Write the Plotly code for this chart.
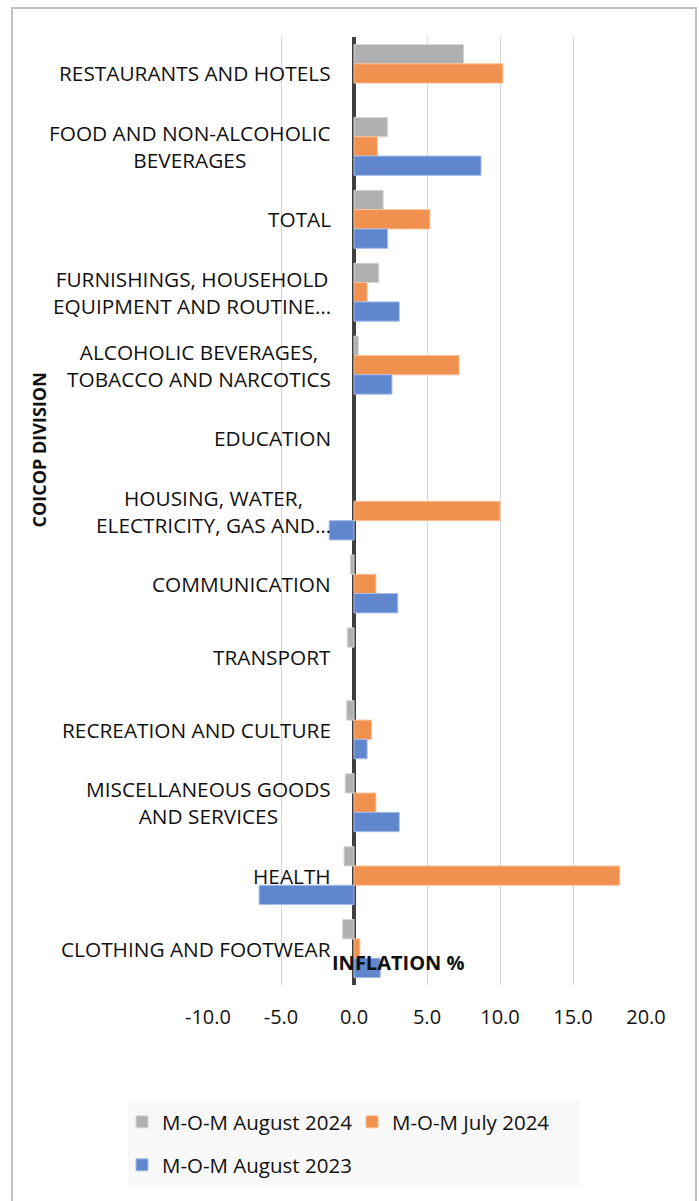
import plotly.graph_objects as go

categories = [
    "RESTAURANTS AND HOTELS",
    "FOOD AND NON-ALCOHOLIC<br>BEVERAGES",
    "TOTAL",
    "FURNISHINGS, HOUSEHOLD<br>EQUIPMENT AND ROUTINE…",
    "ALCOHOLIC BEVERAGES,<br>TOBACCO AND NARCOTICS",
    "EDUCATION",
    "HOUSING, WATER,<br>ELECTRICITY, GAS AND…",
    "COMMUNICATION",
    "TRANSPORT",
    "RECREATION AND CULTURE",
    "MISCELLANEOUS GOODS<br>AND SERVICES",
    "HEALTH",
    "CLOTHING AND FOOTWEAR",
]
aug2024 = [7.5, 2.3, 2.0, 1.7, 0.3, 0.0, 0.0, -0.25, -0.46, -0.5, -0.6, -0.68, -0.78]
jul2024 = [10.2, 1.6, 5.2, 0.9, 7.2, 0.0, 10.0, 1.5, 0.0, 1.2, 1.5, 18.2, 0.4]
aug2023 = [0.0, 8.7, 2.3, 3.1, 2.6, 0.0, -1.7, 3.0, 0.0, 0.9, 3.1, -6.5, 1.8]
series_names = ["M-O-M August 2024", "M-O-M July 2024", "M-O-M August 2023"]
tick_vals = [-10, -5, 0, 5, 10, 15, 20]
tick_text = ["-10.0", "-5.0", "0.0", "5.0", "10.0", "15.0", "20.0"]

FONT = "Open Sans"
W, H = 699, 1201
L, R, T, B = 208, 699 - 646, 37, 1201 - 985
pw, ph = W - L - R, H - T - B

def px(x):
    return (x - L) / pw

def py(y):
    return (H - B - y) / ph

fills = ["rgb(176,176,176)", "rgb(240,145,80)", "rgb(96,135,205)"]
edges = ["rgb(214,214,214)", "rgb(248,192,152)", "rgb(165,188,232)"]
legends = ["legend", "legend", "legend2"]

fig = go.Figure()
for name, vals, fc, ec, lg in zip(series_names, [aug2024, jul2024, aug2023], fills, edges, legends):
    fig.add_trace(go.Bar(
        y=categories, x=[v if v != 0 else None for v in vals], name=name, orientation="h",
        marker=dict(color=fc, line=dict(color=ec, width=1)), legend=lg,
    ))

annotations = []
for c in categories:
    annotations.append(dict(
        x=0, y=c, xref="x", yref="y", text=c, showarrow=False,
        xanchor="right", yanchor="middle", align="center", xshift=-21,
        font=dict(family=FONT, size=20.8, color="#111111"),
    ))
annotations.append(dict(
    x=px(398), y=py(962), xref="paper", yref="paper", text="<b>INFLATION %</b>",
    showarrow=False, xanchor="center", yanchor="middle",
    font=dict(family=FONT, size=20, color="#111111"),
))
annotations.append(dict(
    x=px(38.5), y=py(450), xref="paper", yref="paper", text="<b>COICOP DIVISION</b>",
    showarrow=False, xanchor="center", yanchor="middle", textangle=-90,
    font=dict(family=FONT, size=18, color="#111111"),
))

shapes = [
    dict(type="rect", xref="paper", yref="paper", x0=px(12), x1=px(696), y0=py(1215), y1=py(8),
         line=dict(color="#bfbfbf", width=2), fillcolor="rgba(0,0,0,0)", layer="below"),
    dict(type="rect", xref="paper", yref="paper", x0=px(128), x1=px(580), y0=py(1187), y1=py(1100),
         line=dict(width=0), fillcolor="#f8f8f8", layer="below"),
]

legend_common = dict(
    orientation="h", xanchor="left", yanchor="top",
    bgcolor="rgba(0,0,0,0)", font=dict(family=FONT, size=20.5, color="#111111"),
    traceorder="normal",
)

fig.update_layout(
    width=W, height=H,
    margin=dict(l=L, r=R, t=T, b=B, autoexpand=False),
    paper_bgcolor="white", plot_bgcolor="white",
    barmode="group", bargap=0.205, bargroupgap=0,
    font=dict(family=FONT, size=20, color="#111111"),
    xaxis=dict(
        range=[-10, 20], tickvals=tick_vals, ticktext=tick_text,
        showgrid=True, gridcolor="#d4d4d4", gridwidth=1,
        zeroline=True, zerolinecolor="#404040", zerolinewidth=4,
        showline=False, ticks="outside", ticklen=14, tickcolor="rgba(0,0,0,0)",
        tickfont=dict(family=FONT, size=20, color="#111111"),
    ),
    yaxis=dict(
        type="category", autorange="reversed", showticklabels=False,
        showgrid=False, zeroline=False, showline=False,
    ),
    legend=dict(x=px(122), y=py(1102), entrywidth=185, entrywidthmode="pixels", **legend_common),
    legend2=dict(x=px(122), y=py(1145), **legend_common),
    annotations=annotations,
    shapes=shapes,
    showlegend=True,
)

fig.write_html("out.html", config={"displayModeBar": False},
               post_script="document.body.style.margin='0';document.body.style.overflow='hidden';")
